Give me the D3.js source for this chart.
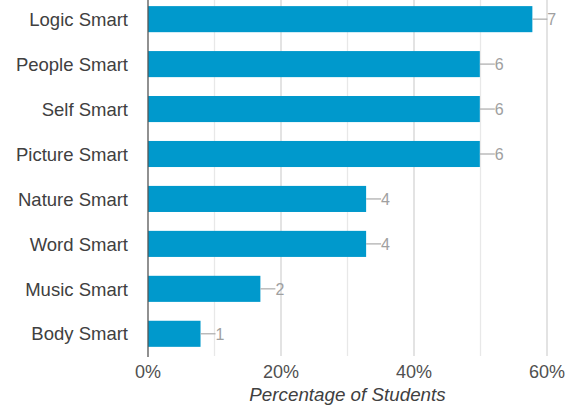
<!DOCTYPE html>
<html>
<head>
<meta charset="utf-8">
<script src="https://cdn.jsdelivr.net/npm/d3@7"></script>
<style>
  body { margin: 0; background: #fff; }
  svg { display: block; font-family: "Liberation Sans", Arial, sans-serif; }
</style>
</head>
<body>
<svg id="chart" width="567" height="407"></svg>
<script>
//Chart data
const categories = ["Logic Smart", "People Smart", "Self Smart", "Picture Smart",
                    "Nature Smart", "Word Smart", "Music Smart", "Body Smart"];
const counts = [7, 6, 6, 6, 4, 4, 2, 1];
const percents = [57.8, 49.9, 49.9, 49.9, 32.8, 32.8, 16.9, 7.9];
const tickValues = [0, 20, 40, 60];
const gridValues = [10, 20, 30, 40, 50, 60];
const axisTitle = "Percentage of Students";

//Layout
const left = 148, plotW = 399, plotH = 356;
const barColor = "#0099cc";

const svg = d3.select("#chart");
const g = svg.append("g").attr("transform", "translate(" + left + ",0)");

const x = d3.scaleLinear().domain([0, 60]).range([0, plotW]);
const y = d3.scaleBand()
    .domain(categories)
    .range([0, plotH])
    .paddingInner(0.42)
    .paddingOuter(0.17)
    .align(0.4);

//Gridlines (every 10%, labelled ones darker)
g.selectAll("line.grid")
    .data(gridValues)
    .enter().append("line")
    .attr("class", "grid")
    .attr("x1", d => x(d)).attr("x2", d => x(d))
    .attr("y1", 0).attr("y2", plotH)
    .attr("stroke", d => d % 20 === 0 ? "#d4d4d4" : "#e8e8e8")
    .attr("stroke-width", 1.3);

//Bars
g.selectAll("rect.bar")
    .data(categories)
    .enter().append("rect")
    .attr("class", "bar")
    .attr("x", 0)
    .attr("y", d => y(d))
    .attr("width", (d, i) => x(percents[i]))
    .attr("height", y.bandwidth())
    .attr("fill", barColor);

//Leader lines and count labels
g.selectAll("line.leader")
    .data(categories)
    .enter().append("line")
    .attr("class", "leader")
    .attr("x1", (d, i) => x(percents[i]))
    .attr("x2", (d, i) => x(percents[i]) + 15)
    .attr("y1", d => y(d) + y.bandwidth() / 2)
    .attr("y2", d => y(d) + y.bandwidth() / 2)
    .attr("stroke", "#aaaaaa")
    .attr("stroke-width", 1.2);

g.selectAll("text.count")
    .data(categories)
    .enter().append("text")
    .attr("class", "count")
    .attr("x", (d, i) => x(percents[i]) + 15)
    .attr("y", d => y(d) + y.bandwidth() / 2)
    .attr("dy", "0.36em")
    .attr("font-size", 16)
    .attr("fill", "#a0a0a0")
    .text((d, i) => counts[i]);

//Category labels
g.selectAll("text.cat")
    .data(categories)
    .enter().append("text")
    .attr("class", "cat")
    .attr("x", -20)
    .attr("y", d => y(d) + y.bandwidth() / 2)
    .attr("dy", "0.36em")
    .attr("text-anchor", "end")
    .attr("font-size", 18.5)
    .attr("fill", "#404040")
    .text(d => d);

//Zero axis line
g.append("line")
    .attr("x1", 0).attr("x2", 0)
    .attr("y1", 0).attr("y2", plotH + 1)
    .attr("stroke", "#555")
    .attr("stroke-width", 1.3);

//X tick labels
g.selectAll("text.tick")
    .data(tickValues)
    .enter().append("text")
    .attr("class", "tick")
    .attr("x", d => x(d))
    .attr("y", 378)
    .attr("text-anchor", "middle")
    .attr("font-size", 18)
    .attr("fill", "#505050")
    .text(d => d + "%");

//Axis title
g.append("text")
    .attr("x", x(30))
    .attr("y", 401)
    .attr("text-anchor", "middle")
    .attr("font-size", 18.8)
    .attr("font-style", "italic")
    .attr("fill", "#404040")
    .text(axisTitle);
</script>
</body>
</html>
